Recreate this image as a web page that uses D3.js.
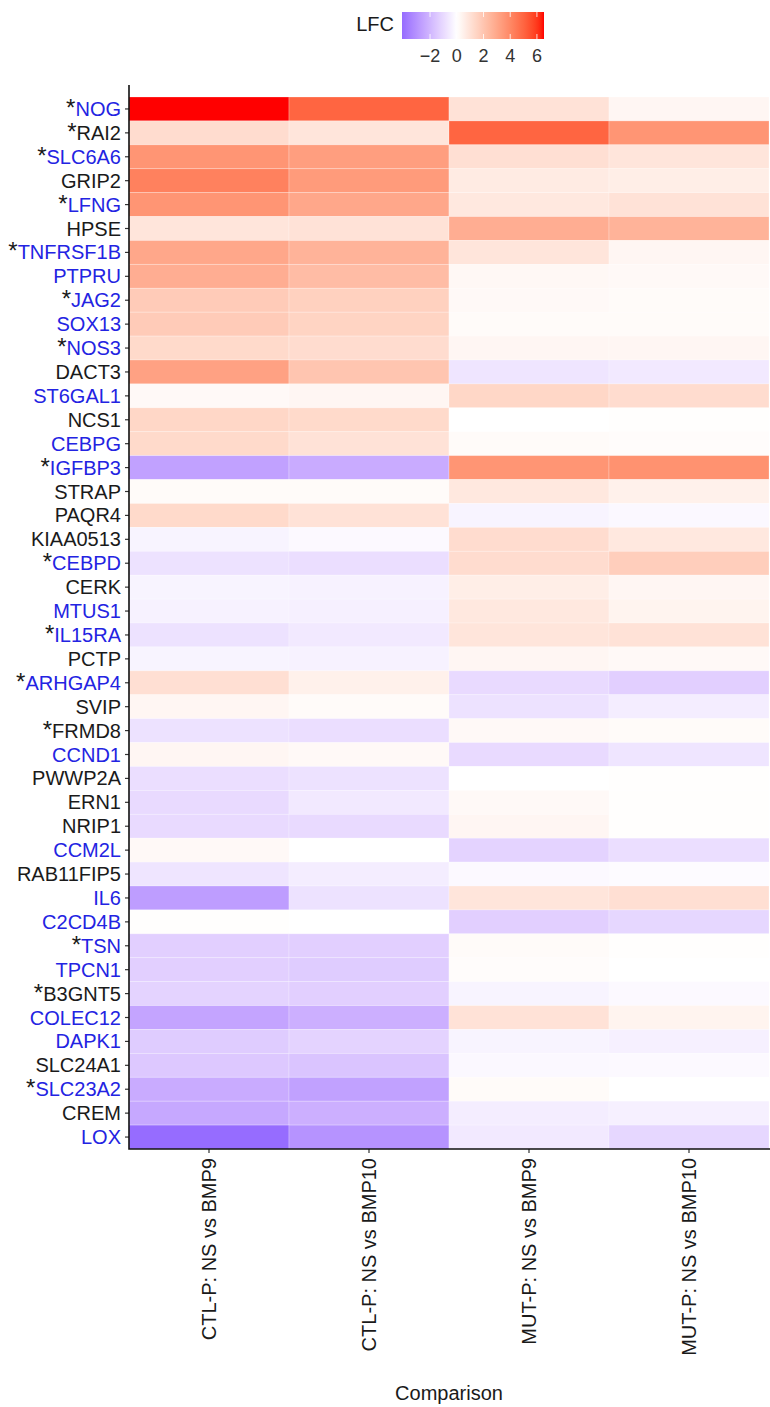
<!DOCTYPE html>
<html>
<head>
<meta charset="utf-8">
<script src="https://cdn.jsdelivr.net/npm/d3@7"></script>
<style>
  html, body { margin: 0; padding: 0; background: #ffffff; }
  svg { display: block; font-family: "Liberation Sans", Arial, sans-serif; }
</style>
</head>
<body>
<svg id="chart" width="770" height="1407"></svg>
<script>
// Genes, top to bottom
const genes = ["NOG","RAI2","SLC6A6","GRIP2","LFNG","HPSE","TNFRSF1B","PTPRU","JAG2","SOX13",
  "NOS3","DACT3","ST6GAL1","NCS1","CEBPG","IGFBP3","STRAP","PAQR4","KIAA0513","CEBPD",
  "CERK","MTUS1","IL15RA","PCTP","ARHGAP4","SVIP","FRMD8","CCND1","PWWP2A","ERN1",
  "NRIP1","CCM2L","RAB11FIP5","IL6","C2CD4B","TSN","TPCN1","B3GNT5","COLEC12","DAPK1",
  "SLC24A1","SLC23A2","CREM","LOX"];

// Genes whose labels are drawn in blue
const blueGenes = ["NOG","SLC6A6","LFNG","TNFRSF1B","PTPRU","JAG2","SOX13","NOS3","ST6GAL1","CEBPG",
  "IGFBP3","CEBPD","MTUS1","IL15RA","ARHGAP4","CCND1","CCM2L","IL6","C2CD4B","TSN","TPCN1",
  "COLEC12","DAPK1","SLC23A2","LOX"];

// Genes marked with an asterisk
const starGenes = ["NOG","RAI2","SLC6A6","LFNG","TNFRSF1B","JAG2","NOS3","IGFBP3","CEBPD","IL15RA",
  "ARHGAP4","FRMD8","TSN","B3GNT5","SLC23A2"];

const comparisons = ["CTL-P: NS vs BMP9","CTL-P: NS vs BMP10","MUT-P: NS vs BMP9","MUT-P: NS vs BMP10"];

// Log fold change per comparison, in gene order
const ctlBmp9 = [6.53,1.2,3.6,4.2,3.6,0.9,3.0,2.8,1.8,1.8,
  1.3,3.2,0.2,1.4,1.3,-2.6,0.15,1.3,-0.3,-0.8,
  -0.3,-0.35,-0.8,-0.3,1.1,0.3,-0.8,0.3,-0.9,-1.0,
  -1.0,0.2,-0.7,-2.7,0.05,-1.3,-1.3,-1.2,-2.5,-1.4,
  -1.5,-2.3,-2.4,-4.1];
const ctlBmp10 = [5.0,0.9,3.3,3.4,3.0,1.0,2.6,2.3,1.6,1.5,
  1.2,2.0,0.3,1.3,1.0,-2.3,0.15,1.0,-0.15,-0.9,
  -0.35,-0.4,-0.6,-0.35,0.5,0.15,-0.9,0.2,-0.8,-0.6,
  -1.0,0.0,-0.5,-0.8,0.0,-1.3,-1.4,-1.3,-2.2,-1.2,
  -1.6,-2.6,-2.2,-3.0];
const mutBmp9 = [1.0,5.0,1.1,0.7,0.8,2.8,0.9,0.25,0.2,0.15,
  0.3,-0.7,1.4,0.0,0.15,3.6,0.8,-0.3,1.2,1.2,
  0.6,0.8,0.9,0.3,-1.0,-0.8,0.2,-1.0,0.0,0.2,
  0.3,-1.2,-0.15,0.9,-1.3,0.15,0.1,-0.3,1.0,-0.3,
  -0.2,0.15,-0.5,-0.6];
const mutBmp10 = [0.3,3.6,0.9,0.6,1.0,2.6,0.3,0.2,0.15,0.15,
  0.3,-0.6,1.2,0.05,0.1,3.7,0.5,-0.2,0.8,1.7,
  0.3,0.4,1.0,0.2,-1.3,-0.5,0.15,-0.7,0.05,0.05,
  0.05,-0.9,-0.1,1.1,-1.1,0.05,0.0,-0.15,0.4,-0.4,
  -0.15,0.0,-0.4,-1.1];

const seriesValues = [ctlBmp9, ctlBmp10, mutBmp9, mutBmp10];

// Legend tick labels
const legendTicks = [-2, 0, 2, 4, 6];

const cells = [];
genes.forEach((g, i) => {
  comparisons.forEach((c, j) => cells.push({ gene: g, comp: c, value: seriesValues[j][i] }));
});

const svg = d3.select("#chart");
const plot = { left: 129, right: 769, top: 97, bottom: 1149 };
const fontSize = 20;
const labelBlue = "#2323e2";
const ink = "#1a1a1a";

const x = d3.scaleBand().domain(comparisons).range([plot.left, plot.right]).paddingInner(0);
const y = d3.scaleBand().domain(genes).range([plot.top, plot.bottom]).paddingInner(0);

// Diverging fill: white at zero, pure red/blue at the largest absolute value
const allValues = seriesValues.flat();
const vMin = d3.min(allValues), vMax = d3.max(allValues);
const maxAbs = Math.max(Math.abs(vMin), Math.abs(vMax));
const toRed = d3.interpolateLab("#ffffff", "#ff0000");
const toBlue = d3.interpolateLab("#ffffff", "#0000ff");
const fill = v => v >= 0 ? toRed(v / maxAbs) : toBlue(-v / maxAbs);

// Tiles
svg.append("g").selectAll("rect").data(cells).join("rect")
  .attr("x", d => x(d.comp))
  .attr("y", d => y(d.gene))
  .attr("width", x.bandwidth())
  .attr("height", y.bandwidth())
  .attr("fill", d => fill(d.value))
  .attr("stroke", "#ffffff")
  .attr("stroke-opacity", 0.3)
  .attr("stroke-width", 0.8);

// Y axis
const yAxis = svg.append("g")
  .attr("transform", `translate(${plot.left},0)`)
  .call(d3.axisLeft(y).tickSize(4).tickPadding(3).tickFormat(() => ""));
yAxis.select(".domain").remove();
yAxis.selectAll(".tick line").attr("stroke", "#333333").attr("stroke-width", 1.2);
yAxis.selectAll(".tick text").remove();
yAxis.selectAll(".tick").append("text")
  .attr("x", -8)
  .attr("y", 7)
  .attr("text-anchor", "end")
  .attr("font-size", fontSize)
  .each(function(g) {
    const t = d3.select(this);
    if (starGenes.includes(g)) {
      t.append("tspan").attr("fill", ink).attr("font-size", fontSize * 1.2).text("*");
    }
    t.append("tspan").attr("fill", blueGenes.includes(g) ? labelBlue : ink).text(g);
  });

// X axis
const xAxis = svg.append("g")
  .attr("transform", `translate(0,${plot.bottom})`)
  .call(d3.axisBottom(x).tickSize(4).tickPadding(6));
xAxis.select(".domain").remove();
xAxis.selectAll(".tick line").attr("stroke", "#333333").attr("stroke-width", 1.2);
xAxis.selectAll(".tick text")
  .attr("font-size", fontSize)
  .attr("fill", ink)
  .attr("transform", "rotate(-90)")
  .attr("x", -9)
  .attr("y", 0)
  .attr("dy", "0.36em")
  .attr("text-anchor", "end");

// Axis lines
svg.append("path")
  .attr("d", `M${plot.left},${plot.top - 12}V${plot.bottom}H${plot.right + 1}`)
  .attr("fill", "none")
  .attr("stroke", "#111111")
  .attr("stroke-width", 1.6);

// X axis title
svg.append("text")
  .attr("x", (plot.left + plot.right) / 2)
  .attr("y", 1400)
  .attr("text-anchor", "middle")
  .attr("font-size", fontSize)
  .attr("fill", ink)
  .text("Comparison");

// Colour bar legend
const legend = svg.append("g");
const lx = d3.scaleLinear().domain([vMin, vMax]).range([402, 544]);
const barTop = 12, barH = 27;
const grad = svg.append("defs").append("linearGradient").attr("id", "lfcGrad")
  .attr("x1", "0%").attr("x2", "100%").attr("y1", "0%").attr("y2", "0%");
d3.range(0, 1.0001, 0.02).forEach(t => {
  const v = vMin + t * (vMax - vMin);
  grad.append("stop").attr("offset", `${t * 100}%`).attr("stop-color", fill(v));
});
legend.append("rect")
  .attr("x", lx(vMin)).attr("y", barTop)
  .attr("width", lx(vMax) - lx(vMin)).attr("height", barH)
  .attr("fill", "url(#lfcGrad)");
legendTicks.forEach(t => {
  legend.append("line").attr("x1", lx(t)).attr("x2", lx(t))
    .attr("y1", barTop).attr("y2", barTop + 5)
    .attr("stroke", "#ffffff").attr("stroke-width", 0.8);
  legend.append("line").attr("x1", lx(t)).attr("x2", lx(t))
    .attr("y1", barTop + barH - 5).attr("y2", barTop + barH)
    .attr("stroke", "#ffffff").attr("stroke-width", 0.8);
});
legend.selectAll("text.tick").data(legendTicks).join("text")
  .attr("class", "tick")
  .attr("x", d => lx(d))
  .attr("y", 62)
  .attr("text-anchor", "middle")
  .attr("font-size", fontSize - 2)
  .attr("fill", "#333333")
  .text(d => d < 0 ? "\u2212" + Math.abs(d) : String(d));
legend.append("text")
  .attr("x", 394)
  .attr("y", 31)
  .attr("text-anchor", "end")
  .attr("font-size", fontSize)
  .attr("fill", ink)
  .text("LFC");
</script>
</body>
</html>
